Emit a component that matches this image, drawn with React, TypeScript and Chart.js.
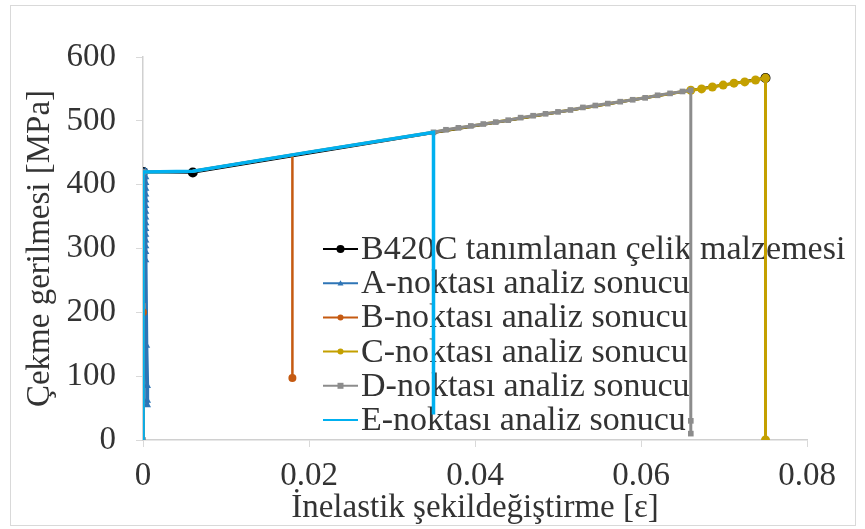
import React, { useEffect, useRef } from 'react';
import { Chart, registerables } from 'chart.js';

Chart.register(...registerables);

// ---- data ----
const seriesNames = [
  'B420C tanımlanan çelik malzemesi',
  'A-noktası analiz sonucu',
  'B-noktası analiz sonucu',
  'C-noktası analiz sonucu',
  'D-noktası analiz sonucu',
  'E-noktası analiz sonucu',
];
const xTickValues = [0, 0.02, 0.04, 0.06, 0.08];
const yTickValues = [0, 100, 200, 300, 400, 500, 600];
const xAxisTitle = 'İnelastik şekildeğiştirme [ε]';
const yAxisTitle = 'Çekme gerilmesi [MPa]';

const strainB420C = [0, 0.006, 0.075];
const stressB420C = [420, 419, 567];

const strainA = [0, 0, 0.0003, 0.0003, 0.0003, 0.0003, 0.0003, 0.0003, 0.0003, 0.0003, 0.0003, 0.0003, 0.0003, 0.0003, 0.0003, 0.0003, 0.0003, 0.0003, 0.0004, 0.0005, 0.0005, 0.0005];
const stressA = [0, 420, 421, 412, 403, 394, 385, 376, 367, 358, 349, 340, 331, 322, 313, 304, 295, 282, 148, 85, 62, 55];

const strainB = [0, 0, 0, 0.006, 0.012, 0.018, 0.018];
const stressB = [0, 200, 420, 421, 434, 446, 97];

const strainC = [0, 0, 0.006, 0.02, 0.035, 0.05, 0.066, 0.0673, 0.0686, 0.0699, 0.0712, 0.0725, 0.0738, 0.075, 0.075];
const stressC = [0, 420, 421, 451, 482, 514, 548, 550, 553, 556, 559, 561, 564, 567, 0];

const strainD = [0, 0, 0, 0.006, 0.02, 0.035, 0.0365, 0.038, 0.0395, 0.041, 0.0425, 0.044, 0.0455, 0.047, 0.0485, 0.05, 0.0515, 0.053, 0.0545, 0.056, 0.0575, 0.059, 0.0605, 0.062, 0.0635, 0.065, 0.066, 0.066, 0.066];
const stressD = [0, 210, 420, 421, 451, 482, 486, 489, 492, 495, 498, 501, 505, 508, 511, 514, 517, 521, 524, 527, 530, 533, 536, 540, 543, 546, 548, 30, 10];

const strainE = [0, 0, 0.006, 0.02, 0.035, 0.035];
const stressE = [0, 420, 421, 451, 482, 40];

// ---- styles ----
const colors = ['#000000', '#2E75B6', '#C55A11', '#C4A000', '#8C8C8C', '#00B0F0'];
const markers = ['circle', 'triangle', 'circle', 'circle', 'rect', 'none'];
const FONT = '"Liberation Serif", "Times New Roman", serif';
const TEXT = '#333333';
const FS = 33;

const toXY = (xs: number[], ys: number[]) => xs.map((x, i) => ({ x, y: ys[i] }));

function drawMarker(ctx: CanvasRenderingContext2D, kind: string, x: number, y: number, r: number) {
  ctx.beginPath();
  if (kind === 'circle') {
    ctx.arc(x, y, r, 0, Math.PI * 2);
  } else if (kind === 'triangle') {
    ctx.moveTo(x, y - r);
    ctx.lineTo(x + r, y + r * 0.8);
    ctx.lineTo(x - r, y + r * 0.8);
    ctx.closePath();
  } else if (kind === 'rect') {
    ctx.rect(x - r, y - r, r * 2, r * 2);
  } else {
    return;
  }
  ctx.fill();
}

const backgroundPlugin = {
  id: 'bgBorder',
  beforeDraw(chart: any) {
    const { ctx, width, height } = chart;
    ctx.save();
    ctx.fillStyle = '#ffffff';
    ctx.fillRect(0, 0, width, height);
    ctx.strokeStyle = '#D9D9D9';
    ctx.lineWidth = 1;
    ctx.strokeRect(10.5, 5.5, width - 20, height - 9);
    ctx.restore();
  },
};

const insideLegend = {
  id: 'insideLegend',
  beforeDatasetsDraw(chart: any) {
    const { ctx, chartArea } = chart;
    const x0 = chartArea.left + 180;
    const y0 = chartArea.top + 192;
    const rowH = 34.2;
    const lineLen = 35;
    ctx.save();
    ctx.font = `34px ${FONT}`;
    ctx.textBaseline = 'middle';
    ctx.textAlign = 'left';
    seriesNames.forEach((name, i) => {
      const y = y0 + i * rowH;
      ctx.strokeStyle = colors[i];
      ctx.fillStyle = colors[i];
      ctx.lineWidth = 2;
      ctx.beginPath();
      ctx.moveTo(x0, y);
      ctx.lineTo(x0 + lineLen, y);
      ctx.stroke();
      drawMarker(ctx, markers[i], x0 + lineLen / 2, y, i === 0 ? 4 : 3);
      ctx.fillStyle = TEXT;
      ctx.fillText(name, x0 + lineLen + 3, y + 1);
    });
    ctx.restore();
  },
};

export default function App() {
  const ref = useRef<HTMLCanvasElement | null>(null);

  useEffect(() => {
    if (!ref.current) return;
    const dataset = (i: number, xs: number[], ys: number[], extra: any) => ({
      label: seriesNames[i],
      data: toXY(xs, ys),
      showLine: true,
      borderColor: colors[i],
      backgroundColor: colors[i],
      pointBorderColor: colors[i],
      pointBackgroundColor: colors[i],
      pointStyle: markers[i] === 'none' ? false : markers[i],
      borderWidth: 2.5,
      pointBorderWidth: 0,
      tension: 0,
      ...extra,
    });

    const chart = new Chart(ref.current, {
      type: 'scatter',
      data: {
        datasets: [
          dataset(5, strainE, stressE, { order: 0, pointRadius: 0, borderWidth: 3.5 }),
          dataset(4, strainD, stressD, {
            order: 1,
            borderWidth: 3,
            pointRadius: strainD.map((x) => (x > 0 && x < 0.035 ? 0 : 4)),
          }),
          dataset(3, strainC, stressC, {
            order: 2,
            borderWidth: 3,
            pointRadius: strainC.map((x) => (x >= 0.066 ? 4.5 : 0)),
          }),
          dataset(2, strainB, stressB, {
            order: 3,
            pointRadius: stressB.map((y) => (y < 300 && y > 0 ? 4 : 0)),
          }),
          dataset(1, strainA, stressA, { order: 4, pointRadius: 4.5, borderWidth: 4 }),
          dataset(0, strainB420C, stressB420C, { order: 5, pointRadius: 5 }),
        ],
      },
      options: {
        responsive: false,
        animation: false,
        layout: { padding: { top: 57, right: 58, left: 0, bottom: 0 } },
        plugins: {
          legend: { display: false },
          tooltip: { enabled: false },
        },
        scales: {
          x: {
            type: 'linear',
            min: 0,
            max: 0.08,
            afterFit: (s: any) => {
              s.height = 89;
            },
            afterBuildTicks: (s: any) => {
              s.ticks = xTickValues.map((v) => ({ value: v }));
            },
            ticks: {
              font: { family: FONT, size: FS },
              color: TEXT,
              padding: 10,
              callback: (v: any) => (Number(v) === 0 ? '0' : String(Number(Number(v).toFixed(2)))),
            },
            grid: {
              drawOnChartArea: false,
              drawTicks: true,
              tickLength: 7,
              color: '#D9D9D9',
            },
            border: { display: true, color: '#D0D0D0', width: 1.5 },
            title: {
              display: true,
              text: xAxisTitle,
              font: { family: FONT, size: FS },
              color: TEXT,
              padding: { top: 0, bottom: 1 },
            },
          },
          y: {
            type: 'linear',
            min: 0,
            max: 600,
            afterFit: (s: any) => {
              s.width = 143;
            },
            afterBuildTicks: (s: any) => {
              s.ticks = yTickValues.map((v) => ({ value: v }));
            },
            ticks: {
              font: { family: FONT, size: FS },
              color: TEXT,
              padding: 20,
            },
            grid: {
              drawOnChartArea: false,
              drawTicks: true,
              tickLength: 7,
              color: '#D9D9D9',
            },
            border: { display: true, color: '#D0D0D0', width: 1.5 },
            title: {
              display: true,
              text: yAxisTitle,
              font: { family: FONT, size: FS },
              color: TEXT,
              padding: { top: 21, bottom: 0 },
            },
          },
        },
      },
      plugins: [backgroundPlugin, insideLegend],
    } as any);

    return () => chart.destroy();
  }, []);

  return (
    <div style={{ position: 'fixed', left: 0, top: 0, width: 865, height: 529 }}>
      <canvas ref={ref} width={865} height={529} />
    </div>
  );
}
